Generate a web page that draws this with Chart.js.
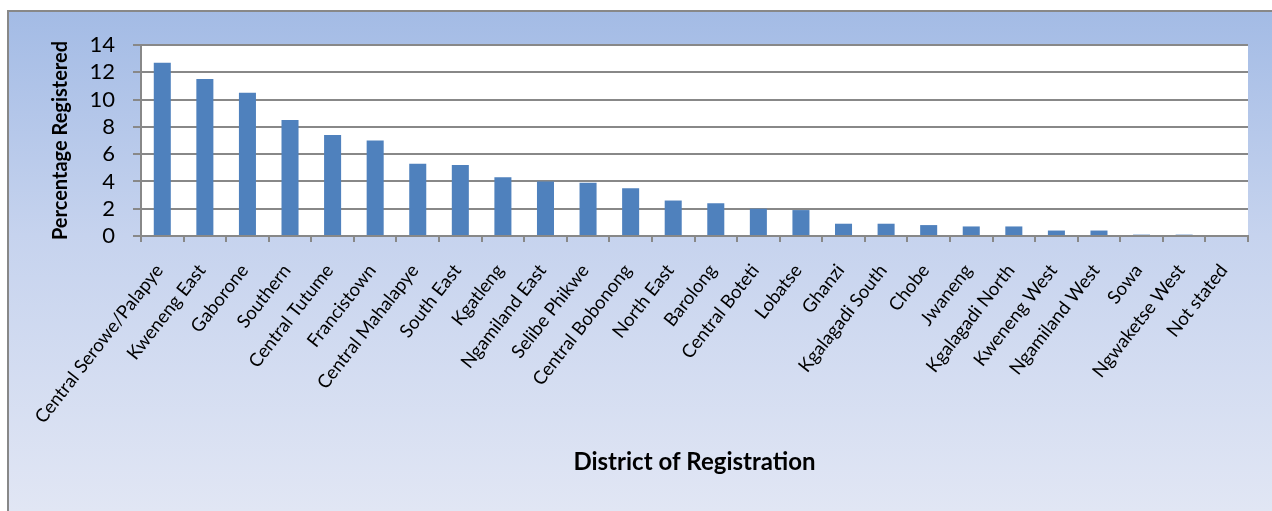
<!DOCTYPE html>
<html>
<head>
<meta charset="utf-8">
<script src="https://cdn.jsdelivr.net/npm/chart.js@4.4.1/dist/chart.umd.min.js"></script>
<style>
  html, body { margin: 0; padding: 0; background: #ffffff; }
  #wrap { width: 1272px; height: 511px; }
</style>
</head>
<body>
<div id="wrap"><canvas id="myChart" width="1272" height="511"></canvas></div>
<script>
const districts = [
  'Central Serowe/Palapye', 'Kweneng East', 'Gaborone', 'Southern', 'Central Tutume',
  'Francistown', 'Central Mahalapye', 'South East', 'Kgatleng', 'Ngamiland East',
  'Selibe Phikwe', 'Central Bobonong', 'North East', 'Barolong', 'Central Boteti',
  'Lobatse', 'Ghanzi', 'Kgalagadi South', 'Chobe', 'Jwaneng', 'Kgalagadi North',
  'Kweneng West', 'Ngamiland West', 'Sowa', 'Ngwaketse West', 'Not stated'
];
const percentRegistered = [
  12.7, 11.5, 10.5, 8.5, 7.4,
  7.0, 5.3, 5.2, 4.3, 4.0,
  3.9, 3.5, 2.6, 2.4, 2.0,
  1.9, 0.9, 0.9, 0.8, 0.7, 0.7,
  0.4, 0.4, 0.1, 0.1, 0
];
const yMin = 0;
const yMax = 14;
const yStep = 2;

const gridGray = '#888888';

// outer frame with the blue gradient, and a white plot area
const frameBg = {
  id: 'frameBg',
  beforeDraw(chart) {
    const ctx = chart.ctx;
    const area = chart.chartArea;
    ctx.save();
    ctx.fillStyle = '#ffffff';
    ctx.fillRect(0, 0, chart.width, chart.height);
    const grad = ctx.createLinearGradient(0, 10, 0, chart.height);
    grad.addColorStop(0, '#a3bbe5');
    grad.addColorStop(0.45, '#c6d3ee');
    grad.addColorStop(1, '#e1e6f4');
    ctx.fillStyle = grad;
    ctx.fillRect(7, 10, chart.width - 7, chart.height - 10);
    ctx.strokeStyle = '#888888';
    ctx.lineWidth = 2;
    ctx.strokeRect(8, 11, chart.width + 10, chart.height + 10);
    ctx.fillStyle = '#ffffff';
    ctx.fillRect(area.left, area.top, area.right - area.left, area.bottom - area.top);
    ctx.restore();
  }
};

const ctx = document.getElementById('myChart').getContext('2d');
const myChart = new Chart(ctx, {
  type: 'bar',
  data: {
    labels: districts,
    datasets: [{
      label: 'Percentage Registered',
      data: percentRegistered,
      backgroundColor: '#4f81bd',
      borderWidth: 0,
      barPercentage: 0.4,
      categoryPercentage: 1.0
    }]
  },
  options: {
    responsive: false,
    animation: false,
    devicePixelRatio: 1,
    layout: { padding: { left: 7, top: 45, right: 24, bottom: 0 } },
    plugins: {
      legend: { display: false },
      tooltip: { enabled: false }
    },
    scales: {
      x: {
        grid: {
          offset: true,
          drawOnChartArea: false,
          drawTicks: true,
          tickLength: 6,
          color: gridGray,
          lineWidth: 2
        },
        border: { color: gridGray, width: 2 },
        ticks: {
          autoSkip: false,
          minRotation: 52,
          maxRotation: 52,
          padding: 18,
          labelOffset: -3,
          color: '#000000',
          font: { family: 'Lato', size: 18.5 }
        },
        title: {
          display: true,
          text: 'District of Registration',
          color: '#000000',
          font: { family: 'Lato', size: 24, weight: 'bold' },
          padding: { top: 34, bottom: 34 }
        },
        afterFit(scale) { scale.height = 511 - 236; }
      },
      y: {
        min: yMin,
        max: yMax,
        ticks: {
          stepSize: yStep,
          autoSkip: false,
          padding: 18,
          color: '#000000',
          font: { family: 'Lato', size: 22 }
        },
        grid: {
          color: gridGray,
          lineWidth: 2,
          tickLength: 8
        },
        border: { color: gridGray, width: 2 },
        title: {
          display: true,
          text: 'Percentage Registered',
          color: '#000000',
          font: { family: 'Lato', size: 20, weight: 'bold' },
          padding: { top: 42, bottom: 42 }
        },
        afterFit(scale) { scale.width = 141 - 7; }
      }
    }
  },
  plugins: [frameBg]
});
</script>
</body>
</html>
